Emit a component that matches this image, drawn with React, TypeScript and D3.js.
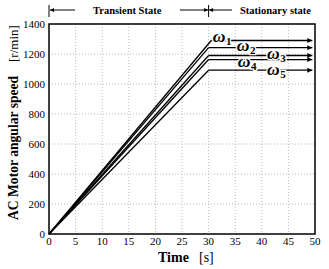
import React from "react";
import * as d3 from "d3";

const seriesNames = ["1", "2", "3", "4", "5"];
const steadyValues = [1290, 1242, 1190, 1163, 1092];
const kneeTimes = [30.5, 30, 30, 30, 30];
const endTime = 49.5;
const labelTimes = [30.8, 35.3, 41, 35.5, 41];
const labelOffsets = [-3, -0.5, -1, 3, 0.5];
const xTicks = [0, 5, 10, 15, 20, 25, 30, 35, 40, 45, 50];
const yTicks = [0, 200, 400, 600, 800, 1000, 1200, 1400];

const W = 329, H = 269;
const L = 49, R = 315, T = 24, B = 234;
const serif = "'Liberation Serif', 'Times New Roman', serif";

export default function App() {
  const x = d3.scaleLinear().domain([0, 50]).range([L, R]);
  const y = d3.scaleLinear().domain([0, 1400]).range([B, T]);
  const line = d3.line<[number, number]>().x(d => x(d[0])).y(d => y(d[1]));
  const knee = x(30);

  return (
    <svg width={W} height={H} style={{ position: "absolute", left: 0, top: 0, background: "#fff" }}>
      <defs>
        <marker id="ah" viewBox="0 0 10 10" refX="10" refY="5" markerWidth="7" markerHeight="5" markerUnits="userSpaceOnUse" orient="auto">
          <path d="M0,0 L10,5 L0,10 z" fill="#000" />
        </marker>
        <marker id="ahs" viewBox="0 0 10 10" refX="10" refY="5" markerWidth="6" markerHeight="4" markerUnits="userSpaceOnUse" orient="auto">
          <path d="M0,0 L10,5 L0,10 z" fill="#000" />
        </marker>
      </defs>
      <rect width={W} height={H} fill="#fff" />
      {xTicks.slice(1, -1).map(t => (
        <line key={"gx" + t} x1={x(t)} x2={x(t)} y1={T} y2={B} stroke="#aaa" strokeWidth={0.8} strokeDasharray="1,2" />
      ))}
      {yTicks.slice(1, -1).map(t => (
        <line key={"gy" + t} x1={L} x2={R} y1={y(t)} y2={y(t)} stroke="#aaa" strokeWidth={0.8} strokeDasharray="1,2" />
      ))}
      {steadyValues.map((v, i) => (
        <g key={"s" + i}>
          <path d={line([[0, 0], [kneeTimes[i], v]]) || ""} fill="none" stroke="#000" strokeWidth={1.3} />
          <path d={line([[kneeTimes[i], v], [endTime, v]]) || ""} fill="none" stroke="#000" strokeWidth={1.3} markerEnd="url(#ah)" />
        </g>
      ))}
      {steadyValues.map((v, i) => (
        <text key={"l" + i} x={x(labelTimes[i])} y={y(v) + labelOffsets[i] + 4}
          fontFamily={serif} fontStyle="italic" fontWeight="bold" fontSize={17.5}
          stroke="#fff" strokeWidth={2.5} paintOrder="stroke" fill="#000">
          ω<tspan fontStyle="normal" fontSize={11} dy={3} dx={0.5}>{seriesNames[i]}</tspan>
        </text>
      ))}
      <rect x={L} y={T} width={R - L} height={B - T} fill="none" stroke="#000" strokeWidth={1.5} />
      {yTicks.map(t => (
        <text key={"yt" + t} x={L - 4} y={y(t) + 4} textAnchor="end" fontFamily={serif} fontSize={11} fill="#000">{t}</text>
      ))}
      {xTicks.map(t => (
        <text key={"xt" + t} x={x(t)} y={B + 11} textAnchor="middle" fontFamily={serif} fontSize={11} fill="#000">{t}</text>
      ))}
      <text x={158} y={262} fontFamily={serif} fontWeight="bold" fontSize={14} fill="#000">Time</text>
      <text x={199} y={262} fontFamily={serif} fontSize={14} fill="#000">[s]</text>
      <text transform="translate(18,220) rotate(-90)" x={0} y={0} fontFamily={serif} fontWeight="bold" fontSize={13.6} fill="#000">AC Motor angular speed</text>
      <text transform="translate(18,62) rotate(-90)" x={0} y={0} fontFamily={serif} fontSize={13} fill="#000">[r/min]</text>
      <line x1={x(0)} x2={x(0)} y1={5} y2={17} stroke="#000" strokeWidth={1} />
      <line x1={75} x2={x(0) + 1} y1={10} y2={10} stroke="#000" strokeWidth={1} markerEnd="url(#ahs)" />
      <text x={93} y={14} fontFamily={serif} fontWeight="bold" fontSize={10.5} fill="#000">Transient State</text>
      <line x1={knee} x2={knee} y1={5} y2={17} stroke="#000" strokeWidth={1} />
      <line x1={180} x2={knee - 0.5} y1={10} y2={10} stroke="#000" strokeWidth={1} markerEnd="url(#ahs)" />
      <line x1={232} x2={knee + 0.5} y1={10} y2={10} stroke="#000" strokeWidth={1} markerEnd="url(#ahs)" />
      <text x={240} y={14} fontFamily={serif} fontWeight="bold" fontSize={10.5} fill="#000">Stationary state</text>
    </svg>
  );
}
